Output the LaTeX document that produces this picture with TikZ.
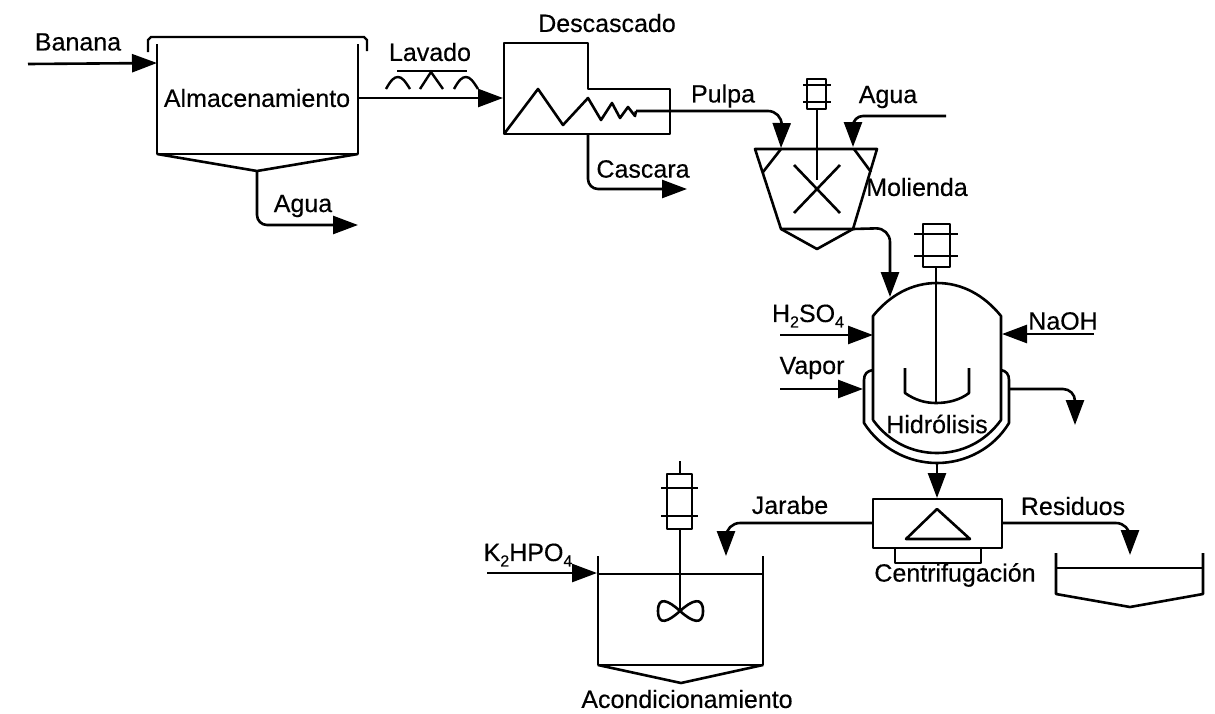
\documentclass[tikz,border=0pt]{standalone}
\usepackage{fontspec}
\setmainfont{Liberation Sans}[FakeBold=0.35]
\usetikzlibrary{arrows.meta}
\newcommand{\lowsub}[1]{\raisebox{-0.22em}{\fontsize{16}{18}\selectfont #1}}
\tikzset{
  lbl/.style={inner sep=0pt,font=\fontsize{25}{30}\selectfont,text=black},
  vessel/.style={line width=2.6pt,line join=round,draw=black},
  thin part/.style={line width=2pt,draw=black},
  flow/.style={line width=2.6pt,draw=black,rounded corners=10pt,-{Triangle[length=25pt,width=18pt]}}
}
\begin{document}
\begin{tikzpicture}[x=1pt,y=-1pt]
\useasboundingbox (0,0) rectangle (1215,713);
% ---------- ports
\coordinate (bananaIn) at (28,64);
\coordinate (almIn) at (157,63);
\coordinate (almOut) at (358,98);
\coordinate (almDrain) at (257,171);
\coordinate (aguaEnd) at (358,225);
\coordinate (desIn) at (503,98);
\coordinate (desBottom) at (588,134);
\coordinate (cascaraEnd) at (687,189);
\coordinate (zigEnd) at (636,111);
\coordinate (molIn) at (781,148);
\coordinate (molAguaIn) at (853,147);
\coordinate (aguaStart) at (946,116);
\coordinate (molOut) at (853,229);
\coordinate (reaIn) at (890,297);
\coordinate (hIn) at (780,335);
\coordinate (hEnd) at (873,335);
\coordinate (nIn) at (1094,334);
\coordinate (nEnd) at (1002,334);
\coordinate (vIn) at (780,389);
\coordinate (vEnd) at (863,389);
\coordinate (jackOut) at (1009,389);
\coordinate (jackEnd) at (1075,425);
\coordinate (reaBottom) at (937,463);
\coordinate (cenTop) at (937,498);
\coordinate (cenR) at (1002,523);
\coordinate (cenL) at (873,523);
\coordinate (resEnd) at (1130,555);
\coordinate (jarEnd) at (726,556);
\coordinate (kIn) at (487,573);
\coordinate (kEnd) at (597,573);
% ---------- storage tank
\draw[vessel] (157,44) -- (157,154) -- (358,154) -- (358,44);
\draw[vessel] (157,154) -- (257,171) -- (358,154);
\draw[thin part,line width=2.4pt] (148,52) -- (148,40) -- (151,37) -- (364,37) -- (367,40) -- (367,51);
% washing sprays
\draw[thin part] (397,71) -- (467,71);
\draw[thin part,line width=2.4pt] (386,89) .. controls (391,80) and (394,77) .. (398,77) .. controls (402,77) and (405,81) .. (410,89);
\draw[thin part,line width=2.4pt] (420,89) -- (431,72) -- (443,89);
\draw[thin part,line width=2.4pt] (454,89) .. controls (459,80) and (462,77) .. (466,77) .. controls (470,77) and (473,81) .. (478,89);
% ---------- peeler
\draw[vessel] (504,43) -- (588,43) -- (588,89) -- (670,89) -- (670,134) -- (504,134) -- cycle;
\draw[vessel] (504,134) -- (538,89) -- (563,125) -- (588,98) -- (601,120) -- (612,103) -- (620,118) -- (628,107) -- (635,116) -- (zigEnd);
% ---------- mill
\draw[vessel] (755,149) -- (877,149) -- (853,229) -- (781,229) -- cycle;
\draw[vessel] (781,229) -- (817,249) -- (853,229);
\draw[vessel] (781,149) -- (763,172);
\draw[vessel] (854,149) -- (871,172);
\draw[vessel] (807,79) rectangle (826,109);
\draw[thin part] (803,85) -- (831,85) (803,102) -- (831,102);
\draw[vessel] (817,109) -- (817,180);
\draw[vessel] (794,165) -- (840,213) (840,165) -- (794,213);
% ---------- reactor
\draw[vessel] (873,420) -- (873,316)
  .. controls (890,295) and (912,283) .. (937,283)
  .. controls (962,283) and (984,295) .. (1001,316) -- (1001,420)
  .. controls (985,442) and (962,453) .. (937,453)
  .. controls (912,453) and (889,442) .. (873,420);
\draw[vessel] (873,370) .. controls (867,371) and (864,374) .. (864,380) -- (864,423)
  .. controls (880,448) and (908,463) .. (937,463)
  .. controls (966,463) and (994,448) .. (1009,423) -- (1009,380)
  .. controls (1009,374) and (1006,371) .. (1001,370);
\draw[vessel] (923,224) rectangle (950,267);
\draw[thin part] (914,234) -- (958,234) (914,256) -- (958,256);
\draw[vessel] (936,267) -- (936,403);
\draw[vessel] (905,368) -- (905,393) .. controls (915,400) and (925,403) .. (936,403)
  .. controls (948,403) and (960,400) .. (969,393) -- (969,368);
% ---------- centrifuge
\draw[vessel] (873,499) rectangle (1002,548);
\draw[vessel] (906,539) -- (937,509) -- (970,539) -- cycle;
\draw[vessel] (895,548) -- (895,563) -- (981,563) -- (981,548);
% ---------- residue tank
\draw[vessel] (1056,553) -- (1056,594) -- (1130,607) -- (1203,594) -- (1203,553);
\draw[thin part] (1056,568) -- (1203,568);
% ---------- conditioning tank
\draw[vessel] (598,556) -- (598,665) -- (763,665) -- (763,556);
\draw[thin part] (598,574) -- (763,574);
\draw[vessel] (598,665) -- (681,683) -- (763,665);
\draw[vessel] (667,474) rectangle (692,529);
\draw[thin part] (661,488) -- (698,488) (661,516) -- (698,516);
\draw[vessel] (680,461) -- (680,474) (680,529) -- (680,610);
\draw[vessel] (680,611) .. controls (668,600) and (658,596) .. (658,611)
  .. controls (658,626) and (668,622) .. (680,611)
  .. controls (692,600) and (703,596) .. (703,611)
  .. controls (703,626) and (692,622) .. (680,611);
% ---------- connectors
\draw[flow] (bananaIn) -- (almIn);
\draw[flow] (almOut) -- (desIn);
\draw[flow] (almDrain) -- (257,225) -- (aguaEnd);
\draw[flow] (desBottom) -- (588,189) -- (cascaraEnd);
\draw[flow,rounded corners=14pt] (zigEnd) -- (782,111) -- (molIn);
\draw[flow] (aguaStart) -- (853,116) -- (molAguaIn);
\draw[flow,rounded corners=14pt] (molOut) -- (890,228) -- (reaIn);
\draw[flow] (hIn) -- (hEnd);
\draw[flow] (nIn) -- (nEnd);
\draw[flow] (vIn) -- (vEnd);
\draw[flow,rounded corners=12pt] (jackOut) -- (1075,389) -- (jackEnd);
\draw[flow] (reaBottom) -- (cenTop);
\draw[flow,rounded corners=14pt] (cenR) -- (1130,523) -- (resEnd);
\draw[flow,rounded corners=14pt] (cenL) -- (726,523) -- (jarEnd);
\draw[flow] (kIn) -- (kEnd);
% ---------- labels
\node[lbl] (tBanana) at (78,42) {Banana};
\node[lbl] (tAlm) at (257,98) {Almacenamiento};
\node[lbl] (tLavado) at (430,52) {Lavado};
\node[lbl] (tAgua1) at (303,206) {Agua};
\node[lbl] (tDes) at (607,23) {Descascado};
\node[lbl] (tPulpa) at (723,96) {Pulpa};
\node[lbl] (tCas) at (643,169) {Cascara};
\node[lbl] (tAgua2) at (888,97) {Agua};
\node[lbl] (tMol) at (917,187) {Molienda};
\node[lbl] (tH) at (808,316) {H\lowsub{2}SO\lowsub{4}};
\node[lbl] (tNa) at (1063,321) {NaOH};
\node[lbl] (tVap) at (812,368) {Vapor};
\node[lbl] (tHid) at (937,424) {Hidrólisis};
\node[lbl] (tJar) at (790,505) {Jarabe};
\node[lbl] (tRes) at (1073,506) {Residuos};
\node[lbl] (tCen) at (955,575) {Centrifugación};
\node[lbl] (tK) at (528,555) {K\lowsub{2}HPO\lowsub{4}};
\node[lbl] (tAco) at (687,699) {Acondicionamiento};
\end{tikzpicture}
\end{document}
